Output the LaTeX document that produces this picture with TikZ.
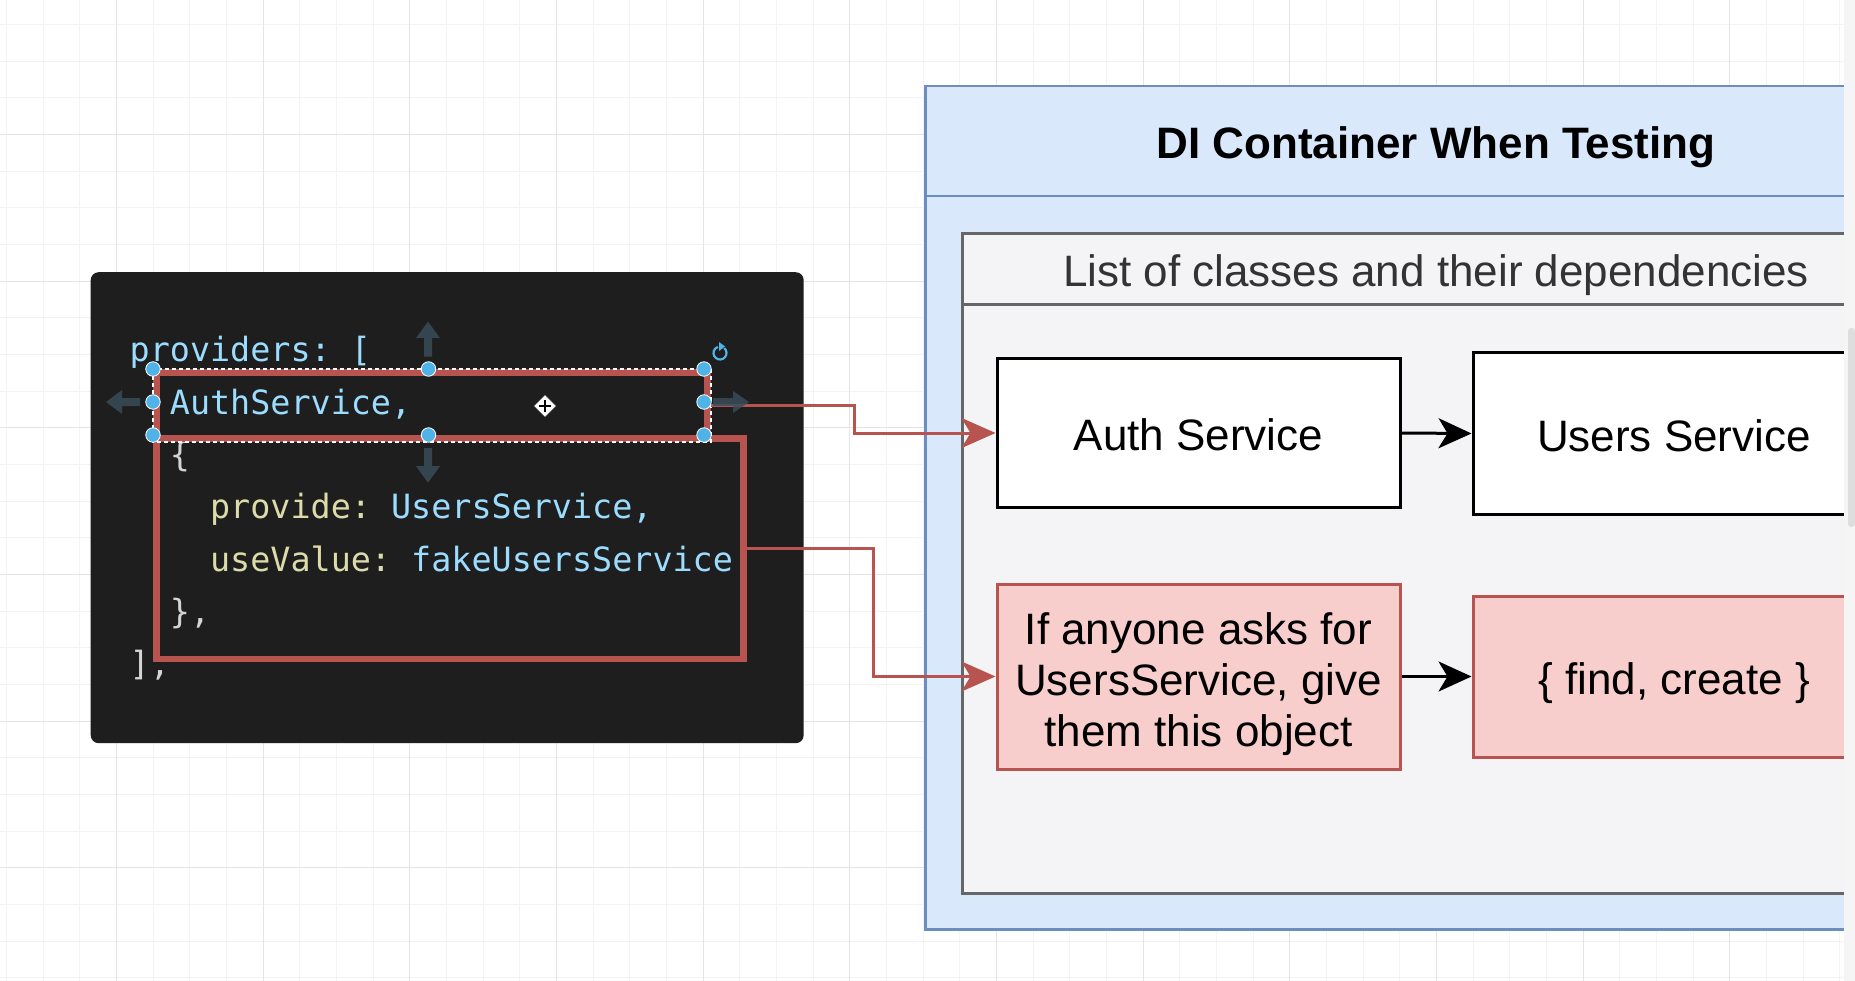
\documentclass[tikz,border=0pt]{standalone}
\usepackage{fontspec}
\setmainfont{Liberation Sans}
\newfontfamily\codefont{DejaVu Sans Mono}
\usetikzlibrary{arrows.meta}
\definecolor{gridminor}{HTML}{F3F3F3}
\definecolor{gridmajor}{HTML}{E4E4E4}
\definecolor{codebg}{HTML}{1E1E1E}
\definecolor{codeblue}{HTML}{9CDCFE}
\definecolor{codeyellow}{HTML}{DCDCAA}
\definecolor{codegray}{HTML}{D4D4D4}
\definecolor{selred}{HTML}{B85450}
\definecolor{handleblue}{HTML}{4FB3E8}
\definecolor{dragarrow}{HTML}{3A4C58}
\definecolor{contfill}{HTML}{DAE8FC}
\definecolor{contline}{HTML}{6C8EBF}
\definecolor{innerfill}{HTML}{F4F4F6}
\definecolor{innerline}{HTML}{666666}
\definecolor{redfill}{HTML}{F8CECC}
\definecolor{hdrtext}{HTML}{333333}
\frenchspacing
\begin{document}
\begin{tikzpicture}[x=1pt,y=-1pt,
  codeline/.style={anchor=base west, inner sep=0pt, font=\codefont\fontsize{33.4}{40}\selectfont},
  dtext/.style={font=\fontsize{44}{51}\selectfont, align=center},
  whitebox/.style={draw=black, fill=white, line width=3pt, inner sep=0pt, dtext},
  redbox/.style={draw=selred, fill=redfill, line width=3pt, inner sep=0pt, dtext},
  redconn/.style={draw=selred, line width=3pt, -{Stealth[length=34pt, width=30pt, inset=9pt]}},
  blackconn/.style={draw=black, line width=3pt, -{Stealth[length=33pt, width=30pt, inset=9pt]}},
  handle/.style={circle, fill=handleblue, draw=white, line width=0.8pt, minimum size=14.5pt, inner sep=0pt},
  dragtip/.style={fill=dragarrow, fill opacity=0.85}
]
\useasboundingbox (0,0) rectangle (1855,981);
\fill[white] (0,0) rectangle (1855,981);
% grid
\foreach \i in {0,...,50} {
  \draw[gridminor, line width=1pt] (6.4+36.667*\i,0) -- (6.4+36.667*\i,981);
}
\foreach \i in {0,...,27} {
  \draw[gridminor, line width=1pt] (0,24.6+36.667*\i) -- (1855,24.6+36.667*\i);
}
\foreach \k in {0,...,12} {
  \draw[gridmajor, line width=1pt] (116.4+146.667*\k,0) -- (116.4+146.667*\k,981);
}
\foreach \k in {0,...,6} {
  \draw[gridmajor, line width=1pt] (0,134.6+146.667*\k) -- (1855,134.6+146.667*\k);
}

% ---------- code panel ----------
\node[fill=codebg, rounded corners=8pt, minimum width=713pt, minimum height=471pt, inner sep=0pt, anchor=north west] (code) at (90.5,272) {};

\node[codeline] (l1) at (129.5,362) {\textcolor{codeblue}{providers: [}};
\node[codeline] (l2) at (129.5,414.3) {\textcolor{codeblue}{\ \ AuthService,}};
\node[codeline] (l3) at (129.5,466.6) {\textcolor{codegray}{\ \ \{}};
\node[codeline] (l4) at (129.5,518.9) {\ \ \ \ \textcolor{codeyellow}{provide:} \textcolor{codeblue}{UsersService,}};
\node[codeline] (l5) at (129.5,571.2) {\ \ \ \ \textcolor{codeyellow}{useValue:} \textcolor{codeblue}{fakeUsersService}};
\node[codeline] (l6) at (129.5,623.5) {\textcolor{codegray}{\ \ \},}};
\node[codeline] (l7) at (129.5,675.8) {\textcolor{codegray}{],}};

% big selection rectangle
\node[draw=selred, line width=6.5pt, minimum width=587pt, minimum height=220.7pt, inner sep=0pt, anchor=north west] (big) at (153,435) {};
% selected AuthService rectangle
\node[draw=selred, line width=7pt, minimum width=551pt, minimum height=66pt, inner sep=0pt, anchor=north west] (sel) at (153,369) {};
\draw[white, line width=1.4pt, dash pattern=on 4pt off 3pt] (sel.north west) rectangle (sel.south east);

% ---------- right side (clipped) ----------
\begin{scope}
\clip (0,0) rectangle (1844,981);
\node[fill=contfill, draw=contline, line width=2.5pt, minimum width=1024pt, minimum height=843pt, inner sep=0pt, anchor=north west] (cont) at (924,85) {};
\draw[contline, line width=2.5pt] (cont.west |- 0,196) -- (cont.east |- 0,196);
\node[font=\fontsize{44}{51}\selectfont\bfseries, inner sep=0pt] (title) at (1436,147.5) {DI Container When Testing};

\node[fill=innerfill, draw=innerline, line width=3pt, minimum width=950pt, minimum height=660pt, inner sep=0pt, anchor=north west] (inner) at (961,232) {};
\draw[innerline, line width=3pt] (inner.west |- 0,305) -- (inner.east |- 0,305);
\node[font=\fontsize{44}{51}\selectfont, text=hdrtext, inner sep=0pt] (hdr) at (1436,275) {List of classes and their dependencies};

\node[whitebox, minimum width=403pt, minimum height=148pt] (auth) at (1198.5,433) {};
\node[dtext, inner sep=0pt] (authtxt) at (1198.5,435) {Auth Service};
\node[whitebox, minimum width=402pt, minimum height=161pt] (users) at (1674,433.5) {};
\node[dtext, inner sep=0pt] (userstxt) at (1674,435.5) {Users Service};
\node[redbox, minimum width=403pt, minimum height=185pt] (ifbox) at (1198.5,676.5) {};
\node[dtext, inner sep=0pt] (iftxt) at (1198.5,684.5) {If anyone asks for\\UsersService, give\\them this object};
\node[redbox, minimum width=402pt, minimum height=161pt] (fc) at (1674,676.5) {};
\node[dtext, inner sep=0pt] (fctxt) at (1674,683.5) {\{ find, create \}};

\draw[blackconn] (auth.east) -- (users.west);
\draw[blackconn] (ifbox.east) -- (fc.west);
\end{scope}

% scroll strip
\fill[white!96!black] (1844,0) rectangle (1855,981);
\fill[black!13, rounded corners=3pt] (1848,328) rectangle (1855,527);

% ---------- connectors ----------
\coordinate (selE) at (sel.east);
\coordinate (bigE) at (big.east);
\draw[redconn] (selE) -- ++(143,0) |- (auth.west);
\draw[redconn] (bigE) -- ++(127,0) |- (ifbox.west);

% ---------- selection UI ----------
\fill[dragtip] (428,321.7) -- (440,338) -- (432,338) -- (432,356.7) -- (424,356.7) -- (424,338) -- (416,338) -- cycle;
\fill[dragtip] (428,482.7) -- (440,466) -- (432,466) -- (432,448) -- (424,448) -- (424,466) -- (416,466) -- cycle;
\fill[dragtip] (106,402) -- (122,390) -- (122,398) -- (140,398) -- (140,406) -- (122,406) -- (122,414) -- cycle;
\fill[dragtip] (749,402) -- (733,391) -- (733,398) -- (713,398) -- (713,406) -- (733,406) -- (733,413) -- cycle;

\foreach \hx in {153,428.5,704} {
  \node[handle] at (\hx,369) {};
  \node[handle] at (\hx,435) {};
}
\node[handle] at (153,402) {};
\node[handle] at (704,402) {};

% rotate icon
\coordinate (rot) at (720,353);
\draw[handleblue, line width=2.2pt] ([shift={(-50:6.5)}]rot) arc[start angle=-50, end angle=250, radius=6.5];
\fill[handleblue] ([shift={(-90:6.5)}]rot) ++(-1,-4.5) -- ++(6,4.5) -- ++(-6,4.5) -- cycle;
% move cursor
\fill[white, draw=black!60, line width=0.6pt] (545,395) -- (556,406) -- (545,417) -- (534,406) -- cycle;
\draw[black, line width=1.2pt] (539,406) -- (551,406) (545,400) -- (545,412);
\end{tikzpicture}
\end{document}
